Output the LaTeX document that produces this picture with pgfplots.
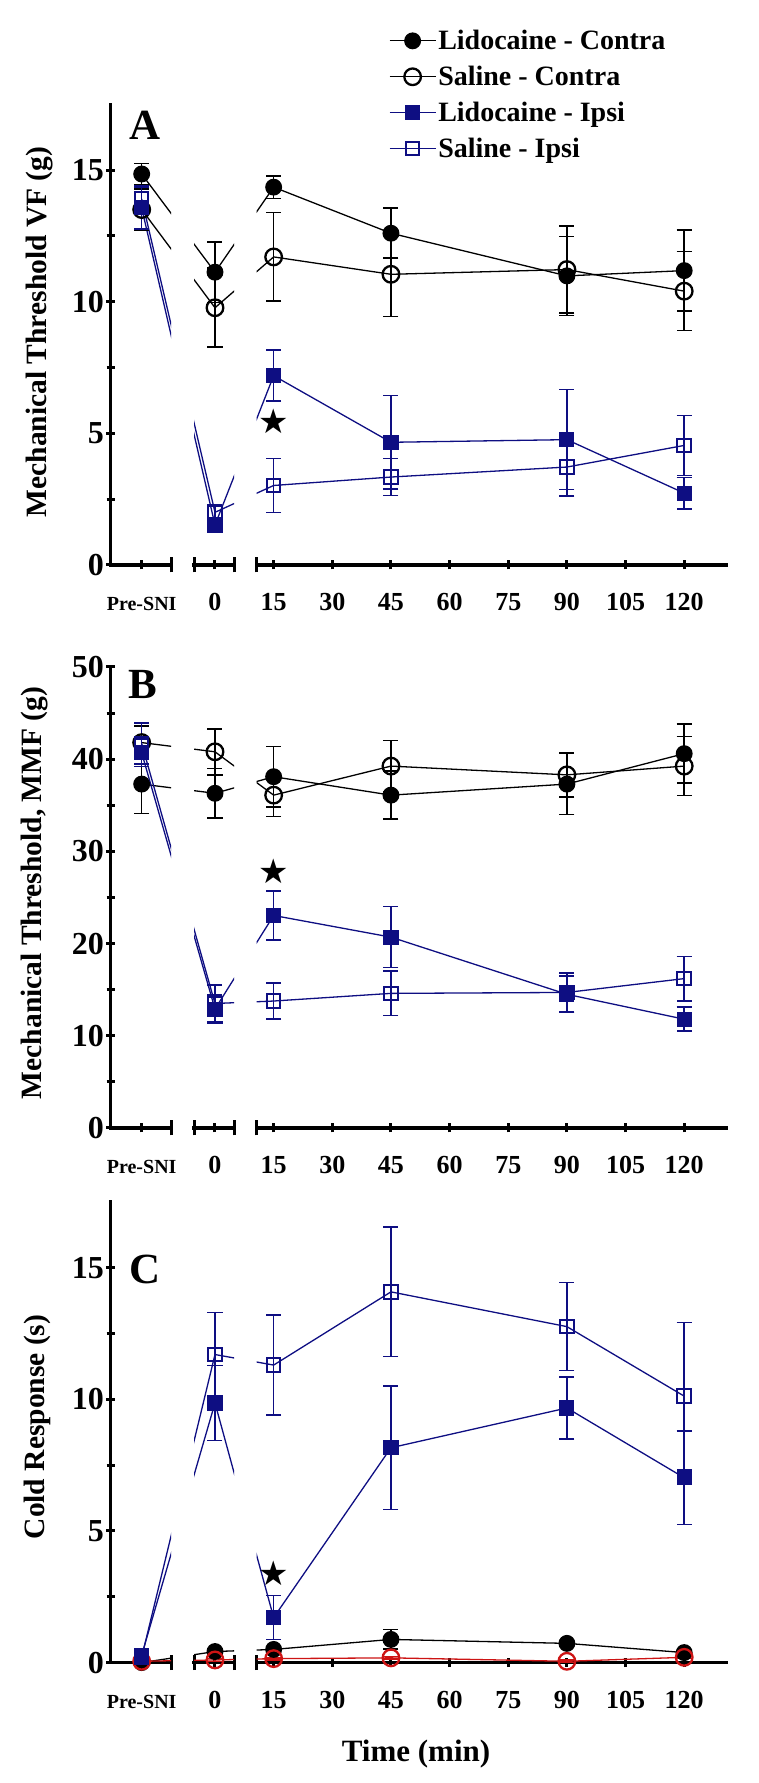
\documentclass[border=0pt]{standalone}
\usepackage{pgfplots}
\pgfplotsset{compat=1.18}
\usepackage{pgfplotstable}
\usepackage{fontspec}
\setmainfont{Liberation Serif}
\newfontfamily\symfont{DejaVu Sans}
\definecolor{navyb}{RGB}{14,14,130}
\definecolor{redc}{RGB}{205,20,20}

% x: Pre-SNI plotted at -18.75, then minutes
\pgfplotstableread{
x LC LCe SC SCe LI LIe SI SIe
-18.75 14.85 0.40 13.50 0.78 13.56 0.80 13.90 0.50
0 11.12 1.15 9.77 1.50 1.52 0.25 2.00 0.30
15 14.35 0.43 11.70 1.68 7.19 0.97 3.02 1.03
45 12.60 0.95 11.04 1.60 4.66 1.77 3.34 0.70
90 10.98 1.50 11.22 1.65 4.76 1.90 3.72 1.10
120 11.18 1.54 10.40 1.50 2.73 0.60 4.54 1.14
}\tabA
\pgfplotstableread{
x LC LCe SC SCe LI LIe SI SIe
-18.75 37.30 3.20 41.80 1.80 40.70 1.50 41.70 2.20
0 36.30 2.70 40.80 2.50 12.90 1.50 13.50 2.00
15 38.10 3.30 36.10 2.30 23.05 2.65 13.77 1.95
45 36.10 2.60 39.25 2.80 20.70 3.30 14.60 2.40
90 37.30 3.30 38.30 2.40 14.50 2.00 14.70 2.10
120 40.60 3.20 39.25 3.20 11.80 1.30 16.20 2.40
}\tabB
\pgfplotstableread{
x LC LCe SC SCe LI LIe SI SIe
-18.75 0.00 0.10 0.05 0.05 0.28 0.10 0.20 0.10
0 0.42 0.10 0.10 0.05 9.86 1.43 11.70 1.60
15 0.50 0.10 0.15 0.05 1.71 0.83 11.30 1.90
45 0.88 0.37 0.18 0.05 8.16 2.34 14.08 2.46
90 0.73 0.10 0.05 0.05 9.67 1.17 12.76 1.67
120 0.38 0.10 0.20 0.05 7.02 1.77 10.12 2.80
}\tabC

\pgfplotsset{
  /pgf/number format/assume math mode=true,
  base/.style={x=3.91pt, ymin=0, enlargelimits=false, anchor=south west},
  nolinearrow/.style={axis line style={-, line width=3.3pt, line cap=rect},
    every outer x axis line/.append style={-},
    every outer y axis line/.append style={-},
    every inner x axis line/.append style={-},
    every inner y axis line/.append style={-},
    x axis line style={-}, y axis line style={-}},
  seg/.style={base,
    tick style={line width=3pt, black}, tick align=outside,
    major tick length=9pt, minor tick length=8pt,
    xticklabel style={font=\fontsize{26}{26}\selectfont\bfseries,
      inner sep=0pt, text height=17pt, text depth=0pt, yshift=-24pt},
    yticklabel style={font=\fontsize{32}{32}\selectfont\bfseries, inner sep=2pt},
    extra x tick style={tick align=center, major tick length=15pt},
    extra x tick labels={},
  },
  segL/.style={seg, axis x line=bottom, axis y line=left, nolinearrow,
    xmin=-26.7, xmax=-11.25,
    xtick={-18.75}, xticklabels={Pre-SNI},
    xticklabel style={font=\fontsize{20}{20}\selectfont\bfseries},
    extra x ticks={-11.25}},
  segM/.style={seg, axis x line=bottom, axis y line=none, nolinearrow,
    ytick=\empty, xmin=-5.37, xmax=4.86,
    xtick={0}, extra x ticks={-5.37,4.86}},
  segR/.style={seg, axis x line=bottom, axis y line=none, nolinearrow,
    ytick=\empty, xmin=10.66, xmax=130.7,
    xtick={15,30,...,120}, extra x ticks={10.66}},
  over/.style={base, hide axis, clip=false, xmin=-26.7, xmax=130.7},
  ln/.style={no markers, line width=1.3pt},
  eb/.style={error bars/.cd, y dir=both, y explicit, error mark=|,
    error bar style={line width=1.5pt},
    error mark options={line width=1.5pt, mark size=7.5pt}},
  legend image code/.code={\draw[mark repeat=2, mark phase=2, #1]
    plot coordinates {(0pt,0pt) (23pt,0pt) (46pt,0pt)};},
}

\newcommand{\seglines}[2]{%
  \addplot[ln, black] table[x=x, y=LC] {#1};
  \addplot[ln, #2] table[x=x, y=SC] {#1};
  \addplot[ln, navyb] table[x=x, y=LI] {#1};
  \addplot[ln, navyb] table[x=x, y=SI] {#1};
}
\newcommand{\datamarks}[2]{%
  \addplot[forget plot, only marks, black, mark=*, mark size=7.8pt,
    mark options={line width=1.3pt, fill=black}, eb]
    table[x=x, y=LC, y error=LCe] {#1};
  \addplot[forget plot, only marks, #2, mark=o, mark size=8.3pt,
    mark options={line width=2.3pt}, eb]
    table[x=x, y=SC, y error=SCe] {#1};
  \addplot[forget plot, only marks, navyb, mark=square*, mark size=6.9pt,
    mark options={line width=1.3pt, fill=navyb}, eb]
    table[x=x, y=LI, y error=LIe] {#1};
  \addplot[forget plot, only marks, navyb, mark=square, mark size=6.8pt,
    mark options={line width=2pt}, eb]
    table[x=x, y=SI, y error=SIe] {#1};
}

\begin{document}
\begin{tikzpicture}[x=1pt, y=1pt]
\path[use as bounding box] (0pt,0pt) rectangle (759pt,1783pt);

% ---------------- Panel A ----------------
\begin{axis}[segL, at={(110.6pt,1218pt)}, y=26.33pt, ymax=17.5,
  ytick={0,5,10,15}, minor ytick={2.5,7.5,12.5}]
\seglines{\tabA}{black}
\end{axis}
\begin{axis}[segM, at={(194.0pt,1218pt)}, y=26.33pt, ymax=17.5]
\seglines{\tabA}{black}
\end{axis}
\begin{axis}[segR, at={(256.68pt,1218pt)}, y=26.33pt, ymax=17.5]
\seglines{\tabA}{black}
\end{axis}
\begin{axis}[over, at={(110.6pt,1218pt)}, y=26.33pt, ymax=17.5,
  legend style={at={(axis description cs:0.452,1.165)}, anchor=north west,
    draw=none, fill=none, inner sep=0pt, row sep=11pt,
    font=\fontsize{28}{28}\selectfont\bfseries},
  legend cell align=left]
\addlegendimage{black, line width=1.3pt, mark=*, mark size=7.8pt, mark options={fill=black}}
\addlegendimage{black, line width=1.3pt, mark=o, mark size=8.3pt, mark options={line width=2.3pt}}
\addlegendimage{navyb, line width=1.3pt, mark=square*, mark size=6.9pt, mark options={fill=navyb}}
\addlegendimage{navyb, line width=1.3pt, mark=square, mark size=6.8pt, mark options={line width=2pt}}
\legend{Lidocaine - Contra, Saline - Contra, Lidocaine - Ipsi, Saline - Ipsi}
\datamarks{\tabA}{black}
\node[font=\symfont\fontsize{34}{34}\selectfont] at (axis cs:15,5.45) {★};
\end{axis}

% ---------------- Panel B ----------------
\begin{axis}[segL, at={(110.6pt,655pt)}, y=9.22pt, ymax=50,
  ytick={0,10,...,50}, minor ytick={5,15,...,45}]
\seglines{\tabB}{black}
\end{axis}
\begin{axis}[segM, at={(194.0pt,655pt)}, y=9.22pt, ymax=50]
\seglines{\tabB}{black}
\end{axis}
\begin{axis}[segR, at={(256.68pt,655pt)}, y=9.22pt, ymax=50]
\seglines{\tabB}{black}
\end{axis}
\begin{axis}[over, at={(110.6pt,655pt)}, y=9.22pt, ymax=50]
\datamarks{\tabB}{black}
\node[font=\symfont\fontsize{34}{34}\selectfont] at (axis cs:15,27.8) {★};
\end{axis}

% ---------------- Panel C ----------------
\begin{axis}[segL, at={(110.6pt,120.4pt)}, y=26.33pt, ymax=17.5,
  ytick={0,5,10,15}, minor ytick={2.5,7.5,12.5}]
\seglines{\tabC}{redc}
\end{axis}
\begin{axis}[segM, at={(194.0pt,120.4pt)}, y=26.33pt, ymax=17.5]
\seglines{\tabC}{redc}
\end{axis}
\begin{axis}[segR, at={(256.68pt,120.4pt)}, y=26.33pt, ymax=17.5]
\seglines{\tabC}{redc}
\end{axis}
\begin{axis}[over, at={(110.6pt,120.4pt)}, y=26.33pt, ymax=17.5]
\datamarks{\tabC}{redc}
\node[font=\symfont\fontsize{34}{34}\selectfont] at (axis cs:15,3.4) {★};
\end{axis}

% ---------------- labels ----------------
\begin{scope}[every node/.style={font=\bfseries}]
\node[font=\fontsize{43}{43}\selectfont\bfseries] at (145pt,1658pt) {A};
\node[font=\fontsize{43}{43}\selectfont\bfseries] at (143pt,1099pt) {B};
\node[font=\fontsize{43}{43}\selectfont\bfseries] at (145pt,514pt) {C};
\node[rotate=90, font=\fontsize{29.5}{29.5}\selectfont\bfseries] at (40pt,1451pt) {Mechanical Threshold VF (g)};
\node[rotate=90, font=\fontsize{29.5}{29.5}\selectfont\bfseries] at (35pt,890pt) {Mechanical Threshold, MMF (g)};
\node[rotate=90, font=\fontsize{29.5}{29.5}\selectfont\bfseries] at (37pt,356pt) {Cold Response (s)};
\node[font=\fontsize{31}{31}\selectfont\bfseries] at (416pt,29pt) {Time (min)};
\end{scope}
\end{tikzpicture}
\end{document}
